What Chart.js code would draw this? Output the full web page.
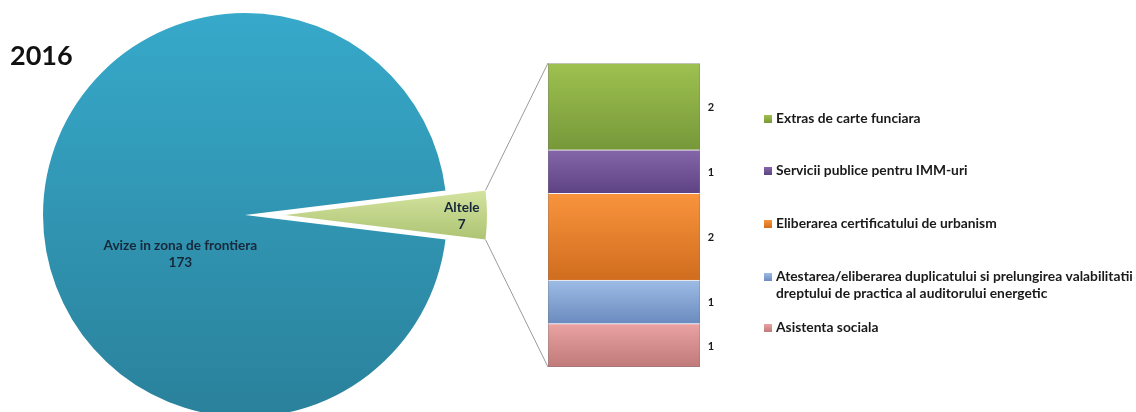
<!DOCTYPE html>
<html><head><meta charset="utf-8">
<script src="https://cdn.jsdelivr.net/npm/chart.js@4.4.0/dist/chart.umd.min.js"></script>
<style>
html,body{margin:0;padding:0;background:#fff;overflow:hidden}
#wrap{position:relative;width:1136px;height:412px}
canvas{position:absolute;left:0;top:0}
</style></head><body>
<div id="wrap">
<canvas id="bar" width="1136" height="412"></canvas>
<canvas id="pieB" width="1136" height="412"></canvas>
<canvas id="pieA" width="1136" height="412"></canvas>
</div>
<script>
// ---- data ----
const titleText = '2016';
const pieLabels = ['Altele', 'Avize in zona de frontiera'];
const pieValues = [7, 173];
const barLabels = [
  'Asistenta sociala',
  'Atestarea/eliberarea duplicatului si prelungirea valabilitatii dreptului de practica al auditorului energetic',
  'Eliberarea certificatului de urbanism',
  'Servicii publice pentru IMM-uri',
  'Extras de carte funciara'
];
const barValues = [1, 1, 2, 1, 2];

// ---- styles ----
const FONT = 'Lato, "Open Sans", "DejaVu Sans", sans-serif';
const pieColors = [['#d4e4a0', '#adc372'], ['#37a9ca', '#2a819b']];
const barColors = [
  ['#eaa2a2', '#c07a7a'],
  ['#9dbce5', '#6b8bbf'],
  ['#f9933d', '#d06d1e'],
  ['#8567a9', '#5d4284'],
  ['#9ec150', '#779839']
];
const PIE_R = 202;
const LEGEND_Y = [328, 277, 224, 171, 119];

const sum = a => a.reduce((s, v) => s + v, 0);
const ROT = 90 - pieValues[0] / sum(pieValues) * 180;
function vgrad(ctx, y0, y1, c0, c1) {
  const g = ctx.createLinearGradient(0, y0, 0, y1);
  g.addColorStop(0, c0); g.addColorStop(1, c1); return g;
}

function pieColor(show) {
  return c => {
    if (c.dataIndex !== show) return 'rgba(0,0,0,0)';
    const ch = c.chart, a = ch.chartArea;
    const col = pieColors[c.dataIndex];
    if (!a) return col[0];
    const cy = (a.top + a.bottom) / 2;
    if (show === 0) return vgrad(ch.ctx, cy - 26, cy + 26, col[0], col[1]);
    return vgrad(ch.ctx, cy - PIE_R, cy + PIE_R, col[0], col[1]);
  };
}

function labelLines(ctx, el, lines, fx, fy) {
  ctx.save();
  ctx.font = 'bold 13.6px ' + FONT;
  ctx.fillStyle = '#16283a';
  ctx.textAlign = 'center';
  ctx.textBaseline = 'middle';
  lines.forEach((t, k) => ctx.fillText(t, el.x + fx * el.outerRadius, el.y + fy * el.outerRadius + (k - (lines.length - 1) / 2) * 17));
  ctx.restore();
}

function makePie(id, padL, padR, show) {
  return new Chart(document.getElementById(id), {
    type: 'pie',
    data: { labels: pieLabels, datasets: [{ data: pieValues, backgroundColor: pieColor(show), borderWidth: 0, clip: false, radius: PIE_R }] },
    options: {
      responsive: false, animation: false, devicePixelRatio: 1,
      rotation: ROT, radius: PIE_R,
      layout: { padding: { left: padL, right: padR, top: 18, bottom: 0 } },
      plugins: { legend: { display: false }, tooltip: { enabled: false } }
    },
    plugins: [{
      id: 'lbl' + id,
      afterDatasetsDraw(chart) {
        const el = chart.getDatasetMeta(0).data[show];
        if (show === 1) labelLines(chart.ctx, el, [pieLabels[1], String(pieValues[1])], -0.32, 0.195);
        else {
          const mid = (el.startAngle + el.endAngle) / 2;
          labelLines(chart.ctx, el, [pieLabels[0], String(pieValues[0])], 0.875 * Math.cos(mid), 0.875 * Math.sin(mid) + 0.005);
        }
      }
    }]
  });
}

const pieA = makePie('pieA', 0, 646, 1);
const pieB = makePie('pieB', 40, 606, 0);

function segGrad(c, i) {
  const ch = c.chart, y = ch.scales.y;
  if (!ch.chartArea || !y) return barColors[i][0];
  const base = sum(barValues.slice(0, i));
  return vgrad(ch.ctx, y.getPixelForValue(base + barValues[i]), y.getPixelForValue(base), barColors[i][0], barColors[i][1]);
}

function wrap(ctx, text, maxW) {
  const words = text.split(' '); const lines = []; let cur = '';
  words.forEach(w => {
    const t = cur ? cur + ' ' + w : w;
    if (ctx.measureText(t).width > maxW && cur) { lines.push(cur); cur = w; } else cur = t;
  });
  if (cur) lines.push(cur);
  return lines;
}

const bar = new Chart(document.getElementById('bar'), {
  type: 'bar',
  data: {
    labels: [''],
    datasets: barLabels.map((l, i) => ({
      label: l, data: [barValues[i]],
      backgroundColor: c => segGrad(c, i),
      borderWidth: { top: 1, left: 0, right: 0, bottom: 0 },
      borderColor: 'rgba(255,255,255,0.55)',
      borderSkipped: false,
      barPercentage: 1, categoryPercentage: 1
    }))
  },
  options: {
    responsive: false, animation: false, devicePixelRatio: 1,
    layout: { padding: { left: 548, right: 436, top: 63, bottom: 45 } },
    scales: {
      x: { display: false, stacked: true },
      y: { display: false, stacked: true, min: 0, max: sum(barValues) }
    },
    plugins: { legend: { display: false }, tooltip: { enabled: false } }
  },
  plugins: [{
    id: 'extras',
    afterDatasetsDraw(chart) {
      const ctx = chart.ctx, a = chart.chartArea;
      // connector lines from exploded slice to bar
      const el = pieB.getDatasetMeta(0).data[0];
      const r = el.outerRadius;
      const p1 = [el.x + Math.cos(el.startAngle) * r, el.y + Math.sin(el.startAngle) * r];
      const p2 = [el.x + Math.cos(el.endAngle) * r, el.y + Math.sin(el.endAngle) * r];
      ctx.save();
      ctx.strokeStyle = '#9a9a9a'; ctx.lineWidth = 1;
      ctx.beginPath();
      ctx.moveTo(p1[0], p1[1]); ctx.lineTo(a.left, a.top);
      ctx.moveTo(p2[0], p2[1]); ctx.lineTo(a.left, a.bottom);
      ctx.stroke();
      // bar outline
      ctx.strokeStyle = 'rgba(120,120,120,0.35)';
      ctx.strokeRect(a.left + 0.5, a.top + 0.5, a.right - a.left - 1, a.bottom - a.top - 1);
      // value labels
      ctx.font = 'bold 11px ' + FONT; ctx.fillStyle = '#1a1a1a';
      ctx.textAlign = 'center'; ctx.textBaseline = 'middle';
      barValues.forEach((v, i) => {
        const b = chart.getDatasetMeta(i).data[0];
        ctx.fillText(String(v), a.right + 11, (b.y + b.base) / 2 + 1);
      });
      // legend
      ctx.font = 'bold 13.8px ' + FONT; ctx.textAlign = 'left';
      const tx = 776, maxW = chart.width - tx;
      barLabels.forEach((l, i) => {
        const y = LEGEND_Y[i];
        ctx.fillStyle = vgrad(ctx, y - 4, y + 4, barColors[i][0], barColors[i][1]);
        ctx.fillRect(764, y - 4, 8, 8);
        ctx.fillStyle = '#1a1a1a';
        wrap(ctx, l, maxW).forEach((t, k) => ctx.fillText(t, tx, y + k * 17));
      });
      // title
      ctx.font = 'bold 27px ' + FONT; ctx.textBaseline = 'alphabetic'; ctx.fillStyle = '#111';
      ctx.fillText(titleText, 10, 65);
      ctx.restore();
    }
  }]
});
</script>
</body></html>
